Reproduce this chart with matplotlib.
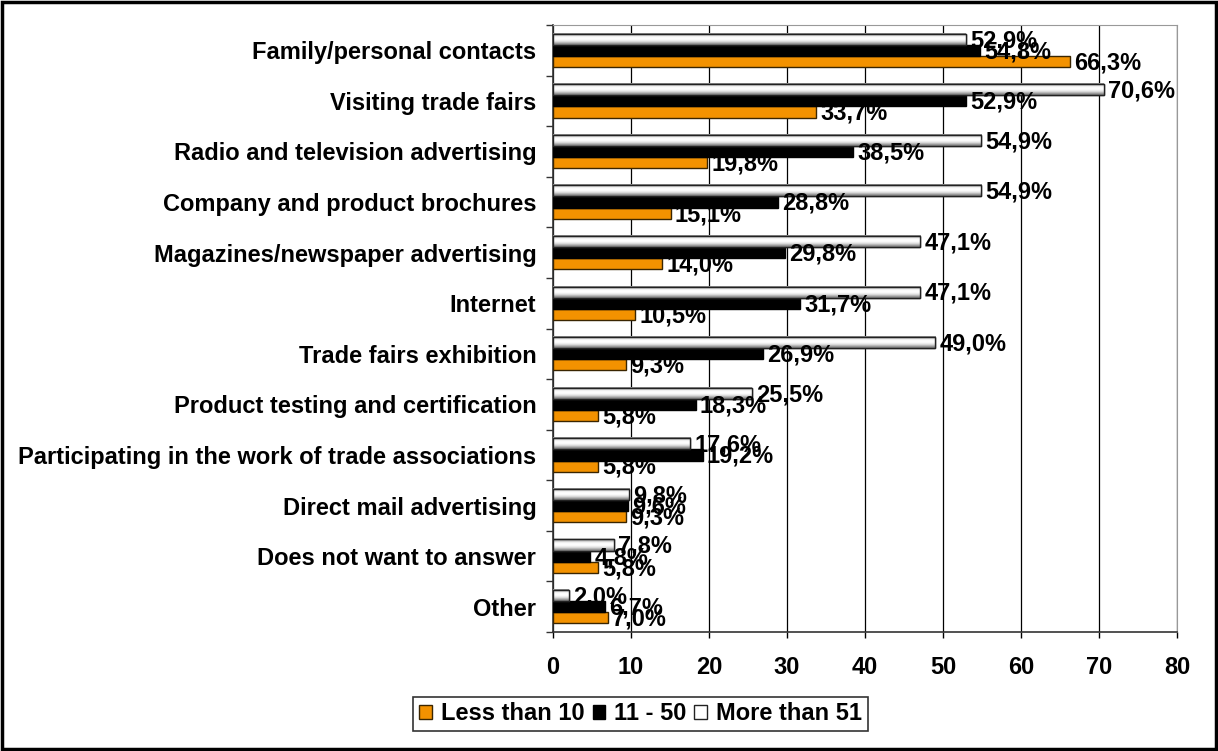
import numpy as np
import matplotlib
matplotlib.use("Agg")
import matplotlib.pyplot as plt
from matplotlib.patches import Rectangle

categories = [
    "Family/personal contacts",
    "Visiting trade fairs",
    "Radio and television advertising",
    "Company and product brochures",
    "Magazines/newspaper advertising",
    "Internet",
    "Trade fairs exhibition",
    "Product testing and certification",
    "Participating in the work of trade associations",
    "Direct mail advertising",
    "Does not want to answer",
    "Other",
]
less_than_10 = [66.3, 33.7, 19.8, 15.1, 14.0, 10.5, 9.3, 5.8, 5.8, 9.3, 5.8, 7.0]
from_11_to_50 = [54.8, 52.9, 38.5, 28.8, 29.8, 31.7, 26.9, 18.3, 19.2, 9.6, 4.8, 6.7]
more_than_51 = [52.9, 70.6, 54.9, 54.9, 47.1, 47.1, 49.0, 25.5, 17.6, 9.8, 7.8, 2.0]
series_names = ["Less than 10", "11 - 50", "More than 51"]
x_ticks = [0, 10, 20, 30, 40, 50, 60, 70, 80]

plt.rcParams["font.family"] = ["Liberation Sans", "DejaVu Sans"]
plt.rcParams["font.weight"] = "bold"
FS = 17

fig = plt.figure(figsize=(12.18, 7.51), dpi=100)
ax = fig.add_axes([553 / 1218, 1 - 632 / 751, (1177 - 553) / 1218, (632 - 25) / 751])

y = np.arange(len(categories))
h = 0.22
orange = "#F39200"

b_or = ax.barh(y + h, less_than_10, height=h, color=orange, edgecolor="#3a2500",
               linewidth=1.0, zorder=3, label=series_names[0])
b_bk = ax.barh(y, from_11_to_50, height=h, color="black", edgecolor="black",
               linewidth=1.0, zorder=3, label=series_names[1])
b_wh = ax.barh(y - h, more_than_51, height=h, color="white", edgecolor="#222222",
               linewidth=1.0, zorder=3, label=series_names[2])

# shaded fill for the white series
grad = np.array([0.55, 0.8, 0.97, 1.0, 0.97, 0.88, 0.7, 0.5]).reshape(-1, 1)
for bar in b_wh:
    x0, yb = bar.get_x(), bar.get_y()
    ax.imshow(grad, cmap="gray", vmin=0, vmax=1, aspect="auto",
              extent=(x0, x0 + bar.get_width(), yb + bar.get_height(), yb),
              zorder=3.5, interpolation="bilinear")
    ax.add_patch(Rectangle((x0, yb), bar.get_width(), bar.get_height(),
                           fill=False, edgecolor="#222222", linewidth=1.0, zorder=4))

def fmt(v):
    return f"{v:.1f}".replace(".", ",") + "%"

for bars, vals in ((b_wh, more_than_51), (b_bk, from_11_to_50), (b_or, less_than_10)):
    for bar, v in zip(bars, vals):
        ax.annotate(fmt(v), xy=(v, bar.get_y() + bar.get_height() / 2),
                    xytext=(3, -1), textcoords="offset points",
                    ha="left", va="center", fontsize=FS, fontweight="bold",
                    color="black", zorder=6, annotation_clip=False)

ax.set_xlim(0, 80)
ax.set_ylim(len(categories) - 0.5, -0.5)
ax.set_xticks(x_ticks)
ax.set_xticklabels([str(t) for t in x_ticks], fontsize=FS, fontweight="bold")
ax.set_yticks(y)
ax.set_yticklabels(categories, fontsize=FS, fontweight="bold")
ax.set_yticks(np.arange(len(categories) + 1) - 0.5, minor=True)
ax.tick_params(axis="y", which="major", length=0, pad=12)
ax.tick_params(axis="y", which="minor", length=5, width=1, color="#333333")
ax.tick_params(axis="x", which="major", length=4.5, width=1, pad=13)
ax.grid(axis="x", color="black", linewidth=0.9, zorder=0)
ax.set_axisbelow(True)
for s in ("left", "bottom"):
    ax.spines[s].set_color("#333333")
    ax.spines[s].set_linewidth(1.2)
ax.spines["top"].set_color("#999999")
ax.spines["right"].set_color("#999999")

leg = fig.legend(handles=[b_or, b_bk, b_wh], labels=series_names, loc="center",
                 bbox_to_anchor=(640.5 / 1218, 1 - 714 / 751), ncol=3, fontsize=FS,
                 frameon=True, fancybox=False, edgecolor="black", handlelength=0.55,
                 handleheight=0.55, handletextpad=0.35, columnspacing=0.35,
                 borderpad=0.25, borderaxespad=0)
leg.get_frame().set_linewidth(1.2)
for t in leg.get_texts():
    t.set_fontweight("bold")

fig.patches.append(Rectangle((2 / 1218, 2 / 751), 1 - 4 / 1218, 1 - 4 / 751,
                             transform=fig.transFigure, fill=False,
                             edgecolor="black", linewidth=2.5))

fig.savefig("out.png", dpi=100)
